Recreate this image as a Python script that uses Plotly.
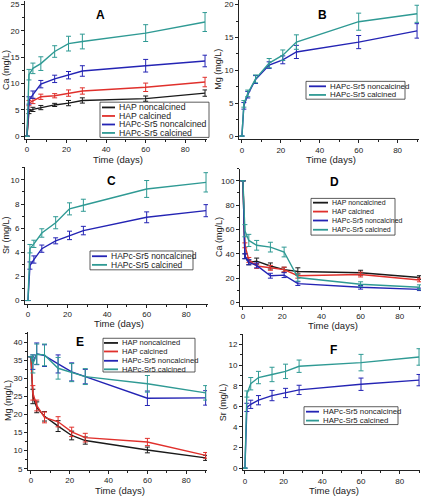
import plotly.graph_objects as go

# ---------------- data ----------------
days = [0, 1, 3, 7, 14, 21, 28, 60, 90]

names4 = ["HAP noncalcined", "HAP calcined", "HAPc-Sr5 noncalcined", "HAPc-Sr5 calcined"]
names2 = ["HAPc-Sr5 noncalcined", "HAPc-Sr5 calcined"]

# Panel A: Ca release (mg/L)
A_hap_nc = [0, 4.7, 5.1, 5.45, 5.95, 6.3, 6.8, 7.15, 8.2]
A_hap_nc_err = [None, 0.4, 0.4, 0.4, 0.3, 0.5, 0.5, 0.5, 0.6]
A_hap_c = [0, 6.3, 6.7, 7.5, 7.7, 8.2, 8.6, 9.3, 10.3]
A_hap_c_err = [None, 0.5, 0.5, 0.5, 0.4, 0.6, 0.6, 0.8, 0.9]
A_sr_nc = [0, 6.8, 7.9, 9.9, 10.9, 11.6, 12.4, 13.4, 14.3]
A_sr_nc_err = [None, 0.7, 0.7, 0.7, 0.7, 0.7, 1.0, 1.2, 1.1]
A_sr_c = [0, 11.7, 12.9, 13.8, 16.1, 17.6, 18.0, 19.6, 21.7]
A_sr_c_err = [None, 1.0, 1.0, 1.3, 1.1, 1.4, 1.4, 1.6, 1.8]

# Panel B: Mg release (mg/L)
B_sr_nc = [0, 4.6, 6.3, 8.6, 10.8, 11.6, 12.8, 14.3, 16.0]
B_sr_nc_err = [None, 0.5, 0.5, 0.6, 0.5, 0.6, 1.0, 1.0, 1.1]
B_sr_c = [0, 4.9, 6.5, 8.7, 11.1, 12.3, 14.3, 17.4, 18.6]
B_sr_c_err = [None, 0.5, 0.5, 0.6, 0.7, 0.8, 1.1, 1.3, 1.3]

# Panel C: Sr release (mg/L)
C_sr_nc = [0, 2.9, 3.4, 4.3, 4.95, 5.4, 5.8, 6.9, 7.45]
C_sr_nc_err = [None, 0.3, 0.3, 0.3, 0.25, 0.35, 0.35, 0.45, 0.5]
C_sr_c = [0, 4.3, 4.7, 5.6, 6.45, 7.6, 7.9, 9.25, 9.8]
C_sr_c_err = [None, 0.35, 0.3, 0.35, 0.5, 0.5, 0.5, 0.7, 0.8]

# Panel D: Ca consumption (mg/L)
D_hap_nc = [100, 38, 33, 34, 30, 27, 25.5, 24.5, 20.5]
D_hap_nc_err = [None, 2, 2, 2.5, 2.5, 2, 3, 2, 1.5]
D_hap_c = [100, 47, 35, 30, 28.5, 27, 22, 23, 18.5]
D_hap_c_err = [None, 2, 2, 2, 2, 2, 2, 2, 1.5]
D_sr_nc = [100, 38, 33, 30.5, 22, 22.5, 15.5, 12.5, 10.8]
D_sr_nc_err = [None, 2, 2, 2, 2, 2, 1.5, 1.5, 1]
D_sr_c = [100, 59, 51, 47, 45.5, 41.5, 20.5, 15, 12.5]
D_sr_c_err = [None, 5, 5, 4, 4, 4, 3, 2, 2]

# Panel E: Mg consumption (mg/L)
E_hap_nc = [36, 25, 22, 19.5, 16.8, 14.2, 12.8, 10.2, 8.0]
E_hap_nc_err = [None, 2, 1.5, 1.3, 1.5, 1.2, 1.0, 0.8, 0.7]
E_hap_c = [36, 26, 22.5, 19.2, 18, 15.2, 13.6, 12.4, 8.7]
E_hap_c_err = [None, 2, 1.5, 1.5, 1.4, 1.3, 1.2, 1.0, 0.8]
E_sr_nc = [36, 34.5, 36.8, 36.3, 34.0, 31.8, 30.5, 24.5, 24.6]
E_sr_nc_err = [None, 2, 3, 3, 2.5, 2.5, 2, 2, 2]
E_sr_c = [36, 34, 36.7, 36.5, 32.8, 31.6, 30.5, 28.5, 26]
E_sr_c_err = [None, 2.5, 2.8, 3, 3, 2.5, 2.2, 2.3, 2]

# Panel F: Sr consumption (mg/L)
F_sr_nc = [0, 5.9, 6.2, 6.6, 7.05, 7.3, 7.6, 8.15, 8.55]
F_sr_nc_err = [None, 0.4, 0.4, 0.45, 0.5, 0.45, 0.45, 0.6, 0.55]
F_sr_c = [0, 7.2, 8.2, 8.8, 9.1, 9.4, 9.9, 10.25, 10.8]
F_sr_c_err = [None, 0.3, 0.6, 0.6, 0.7, 0.7, 0.6, 0.8, 0.8]

# ---------------- styling ----------------
C_BLACK = "#1a1a1a"
C_RED = "#e0302c"
C_BLUE = "#2424b4"
C_TEAL = "#2f9a94"
colors4 = [C_BLACK, C_RED, C_BLUE, C_TEAL]
colors2 = [C_BLUE, C_TEAL]
FONT = "Liberation Sans, Arial, sans-serif"
W, H = 422, 500


def px(x):
    return x / W


def py(y):
    return 1 - y / H


panels = [
    dict(key="A", dom=(25, 207, 1, 140), xr=[-1, 91], yr=[-0.5, 25.7], dy=5,
         series=[(A_hap_nc, A_hap_nc_err), (A_hap_c, A_hap_c_err), (A_sr_nc, A_sr_nc_err), (A_sr_c, A_sr_c_err)],
         names=names4, colors=colors4, ytitle="Ca (mg/L)", ytx=6, lfs=8.7,
         label=(100, 15), leg=(100, 103, 209, 138.5), legy=[108.3, 116.9, 125.5, 134], linex=(102, 115), textx=116.5),
    dict(key="B", dom=(239, 419, 0, 140.5), xr=[-1.5, 91], yr=[-0.5, 20.7], dy=5,
         series=[(B_sr_nc, B_sr_nc_err), (B_sr_c, B_sr_c_err)],
         names=names2, colors=colors2, ytitle="Mg (mg/L)", ytx=218, lfs=7.9,
         label=(322, 15), leg=(306, 82, 405, 100), legy=[87, 95.7], linex=(309, 326), textx=327.5),
    dict(key="C", dom=(25, 208, 168, 306), xr=[-1.5, 91], yr=[-0.25, 11.1], dy=2,
         series=[(C_sr_nc, C_sr_nc_err), (C_sr_c, C_sr_c_err)],
         names=names2, colors=colors2, ytitle="Sr (mg/L)", ytx=6, lfs=8.5,
         label=(111, 182), leg=(90, 253, 193, 272), legy=[258.3, 267], linex=(92, 107), textx=108.5),
    dict(key="D", dom=(240, 421, 170, 308), xr=[-1.5, 90.8], yr=[-2.5, 110], dy=20,
         series=[(D_hap_nc, D_hap_nc_err), (D_hap_c, D_hap_c_err), (D_sr_nc, D_sr_nc_err), (D_sr_c, D_sr_c_err)],
         names=names4, colors=colors4, ytitle="Ca (mg/L)", ytx=219, lfs=7.0,
         label=(334, 183), leg=(311, 200, 395, 237), legy=[204.3, 213.3, 222.3, 231.6], linex=(313, 328), textx=329.5),
    dict(key="E", dom=(28, 207, 335, 473.5), xr=[-1.5, 90.7], yr=[4.73, 42.75], dy=5,
         series=[(E_hap_nc, E_hap_nc_err), (E_hap_c, E_hap_c_err), (E_sr_nc, E_sr_nc_err), (E_sr_c, E_sr_c_err)],
         names=names4, colors=colors4, ytitle="Mg (mg/L)", ytx=8, lfs=7.6,
         label=(80, 345), leg=(103, 341, 195, 375), legy=[345.7, 354.3, 363.7, 372.3], linex=(104, 118), textx=119.5),
    dict(key="F", dom=(243, 420, 337, 474), xr=[-1, 90.5], yr=[-0.2, 13], dy=2,
         series=[(F_sr_nc, F_sr_nc_err), (F_sr_c, F_sr_c_err)],
         names=names2, colors=colors2, ytitle="Sr (mg/L)", ytx=223, lfs=7.8,
         label=(333, 353), leg=(304, 410, 398, 428), legy=[415, 424], linex=(306, 319), textx=320.5),
]

fig = go.Figure()
annotations = []
shapes = []
layout_axes = {}

for i, p in enumerate(panels):
    n = "" if i == 0 else str(i + 1)
    xa, ya = "x" + n, "y" + n
    x0, x1, y0, y1 = p["dom"]
    for (vals, errs), name, col in zip(p["series"], p["names"], p["colors"]):
        fig.add_trace(go.Scatter(
            x=days, y=vals, mode="lines", name=name, showlegend=False,
            line=dict(color=col, width=1.4),
            error_y=dict(type="data", array=errs, visible=True, color=col, thickness=1, width=2.5),
            xaxis=xa, yaxis=ya, hoverinfo="x+y+name"))
    common = dict(showline=True, linecolor="#222", linewidth=1, showgrid=False, zeroline=False,
                  ticks="outside", ticklen=3, tickcolor="#222", tickwidth=1,
                  tickfont=dict(family=FONT, size=8, color="#222"))
    layout_axes["xaxis" + n] = dict(common, domain=[px(x0), px(x1)], range=p["xr"], anchor=ya,
                                    tick0=0, dtick=20,
                                    minor=dict(ticks="outside", ticklen=2, dtick=10, tick0=0, tickcolor="#222"))
    layout_axes["yaxis" + n] = dict(common, domain=[py(y1), py(y0)], range=p["yr"], anchor=xa,
                                    tick0=0, dtick=p["dy"],
                                    minor=dict(ticks="outside", ticklen=2, dtick=p["dy"] / 2, tick0=0, tickcolor="#222"))
    # panel letter
    lx, ly = p["label"]
    annotations.append(dict(x=px(lx), y=py(ly), xref="paper", yref="paper", text="<b>%s</b>" % p["key"],
                            xanchor="center", yanchor="middle",
                            showarrow=False, font=dict(family=FONT, size=12, color="#000")))
    # axis titles
    annotations.append(dict(x=px((x0 + x1) / 2 + 2), y=py(y1 + 20.5), xref="paper", yref="paper",
                            text="Time (days)", showarrow=False, xanchor="center", yanchor="middle",
                            font=dict(family=FONT, size=9.5, color="#222")))
    annotations.append(dict(x=px(p["ytx"]), y=py((y0 + y1) / 2), xref="paper", yref="paper",
                            text=p["ytitle"], textangle=-90, showarrow=False, xanchor="center", yanchor="middle",
                            font=dict(family=FONT, size=9, color="#222")))
    # legend box
    bx0, by0, bx1, by1 = p["leg"]
    shapes.append(dict(type="rect", xref="paper", yref="paper", x0=px(bx0), x1=px(bx1), y0=py(by1), y1=py(by0),
                       line=dict(color="#333", width=0.8), fillcolor="rgba(255,255,255,0.9)", layer="above"))
    lx0, lx1 = p["linex"]
    for yy, name, col in zip(p["legy"], p["names"], p["colors"]):
        shapes.append(dict(type="line", xref="paper", yref="paper", x0=px(lx0), x1=px(lx1), y0=py(yy), y1=py(yy),
                           line=dict(color=col, width=1.8), layer="above"))
        annotations.append(dict(x=px(p["textx"]), y=py(yy), xref="paper", yref="paper", text=name,
                                xanchor="left", yanchor="middle", showarrow=False,
                                font=dict(family=FONT, size=p["lfs"], color="#222")))

fig.update_layout(
    width=W, height=H, margin=dict(l=0, r=0, t=0, b=0),
    paper_bgcolor="white", plot_bgcolor="white",
    showlegend=False, annotations=annotations, shapes=shapes,
    **layout_axes)

fig.write_html("out.html", config={"displayModeBar": False},
               post_script="document.body.style.margin='0';document.body.style.overflow='hidden';")
